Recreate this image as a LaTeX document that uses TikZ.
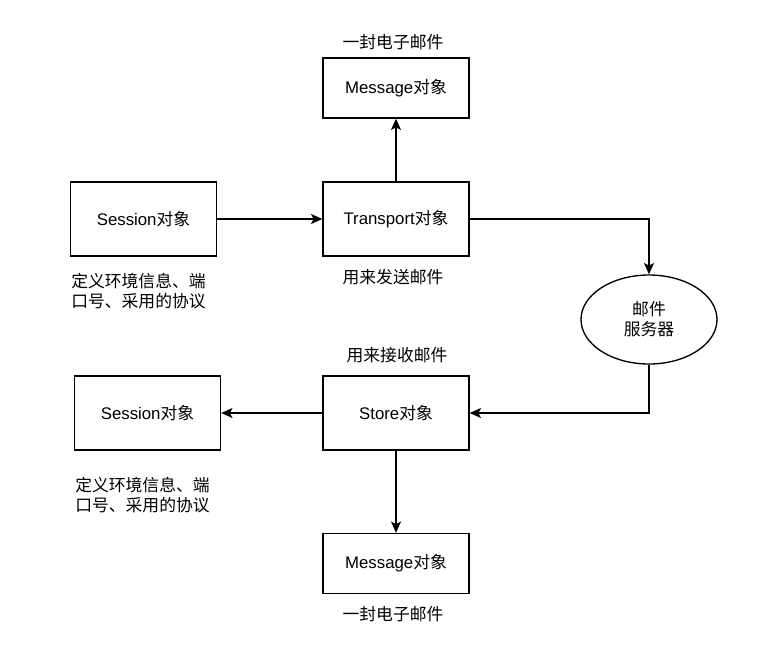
\documentclass[tikz,border=0pt]{standalone}
\usepackage{fontspec}
\setmainfont{Liberation Sans}
\newfontfamily\cjk{Noto Sans CJK SC}
\usetikzlibrary{arrows.meta,shapes.geometric}
\begin{document}
\begin{tikzpicture}[x=0.75pt,y=-0.75pt,
    obj/.style={draw, line width=1pt, minimum width=109.5pt, font=\fontsize{12.6}{15}\selectfont},
    tall/.style={obj, minimum height=55.5pt},
    flat/.style={obj, minimum height=45pt},
    note/.style={font=\fontsize{12.6}{15}\selectfont\cjk, inner sep=0pt},
    link/.style={-{Stealth[length=8.5pt,width=7.5pt,inset=2pt]}, line width=1pt}]
    \useasboundingbox (0,0) rectangle (782,662);

    % Sending side
    \node[tall] (session) at (143.5,219) {Session{\cjk 对象}};
    \node[tall] (transport) at (396,219) {Transport{\cjk 对象}};
    \node[flat] (msgtop) at (396,88) {Message{\cjk 对象}};
    \node[note] (lbtop) at (393,42) {一封电子邮件};
    \node[note] (lbsend) at (393,277) {用来发送邮件};
    \node[note, anchor=west, align=left] (envtop) at (71,291) {定义环境信息、端\\口号、采用的协议};

    % Mail server
    \node[draw, ellipse, line width=1pt, minimum width=102pt, minimum height=66.75pt,
          font=\fontsize{12.6}{15}\selectfont\cjk, align=center] (server) at (649,319.5) {邮件\\服务器};

    % Receiving side
    \node[tall] (store) at (396,413) {Store{\cjk 对象}};
    \node[tall] (sessionb) at (147.5,413) {Session{\cjk 对象}};
    \node[flat] (msgbot) at (396,563.5) {Message{\cjk 对象}};
    \node[note] (lbrecv) at (397,355) {用来接收邮件};
    \node[note] (lbbot) at (393,614) {一封电子邮件};
    \node[note, anchor=west, align=left] (envbot) at (75,495) {定义环境信息、端\\口号、采用的协议};

    % Arrows
    \draw[link] (session) -- (transport);
    \draw[link] (transport) -- (msgtop);
    \draw[link] (transport.east) -| (server.north);
    \draw[link] (server.south) |- (store.east);
    \draw[link] (store) -- (sessionb);
    \draw[link] (store) -- (msgbot);
\end{tikzpicture}
\end{document}
